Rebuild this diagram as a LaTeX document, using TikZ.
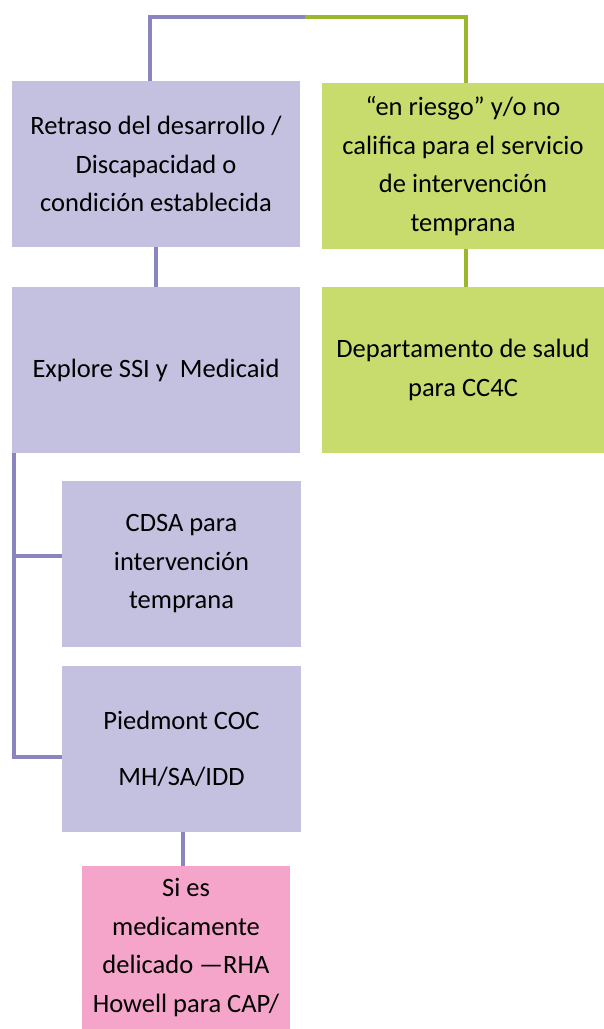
\documentclass[tikz,border=0pt]{standalone}
\usepackage{fontspec}
\setmainfont{Carlito}
\usetikzlibrary{positioning}
\definecolor{lilafondo}{HTML}{C4C1E0}
\definecolor{lilalinea}{HTML}{8A84C0}
\definecolor{verdefondo}{HTML}{C8DC6E}
\definecolor{verdelinea}{HTML}{9BB72E}
\definecolor{rosafondo}{HTML}{F4A5C9}
\begin{document}
\begin{tikzpicture}[
        x=1pt, y=-1pt, % el eje y crece hacia abajo
        caja/.style={rectangle, inner sep=0pt, outer sep=0pt, align=center,
            font=\fontsize{26.5}{38.5}\selectfont}, % estilo comun de las cajas
        lila/.style={caja, fill=lilafondo, minimum width=288pt, minimum height=166pt},
        verde/.style={caja, fill=verdefondo, minimum width=282pt, minimum height=166pt},
        hijo/.style={caja, fill=lilafondo, minimum width=239pt, minimum height=166pt},
        rosa/.style={caja, fill=rosafondo, minimum width=208pt, minimum height=163pt},
        lilarama/.style={draw=lilalinea, line width=4.5pt},
        verderama/.style={draw=verdelinea, line width=4.5pt},
    ]
    \useasboundingbox (0,0) rectangle (604,1029);

    \node[lila] (retraso) at (156,164) {Retraso del desarrollo /\\Discapacidad o\\condición establecida};
    \node[verde] (riesgo) at (463,166) {“en riesgo” y/o no\\califica para el servicio\\de intervención\\temprana};
    \node[lila, below=40pt of retraso] (explore) {Explore SSI y\ \ Medicaid};
    \node[verde, below=38pt of riesgo] (salud) {Departamento de salud\\para CC4C};
    \node[hijo] (cdsa) at (181.5,564) {CDSA para\\intervención\\temprana};
    \node[hijo, below=19pt of cdsa] (piedmont) {Piedmont COC\\[17.5pt]MH/SA/IDD};
    \node[rosa] (howell) at (186,947.5) {Si es\\medicamente\\delicado —RHA\\Howell para CAP/};

    \coordinate (arriba) at (305,17);
    \coordinate (bus) at (14,556);

    \draw[lilarama] (arriba) -| ([xshift=-6pt]retraso.north);
    \draw[verderama] (arriba) -| ([xshift=3pt]riesgo.north);
    \draw[lilarama] (retraso.south) -- (explore.north);
    \draw[verderama] ([xshift=3pt]riesgo.south) -- ([xshift=3pt]salud.north);
    \draw[lilarama] ([xshift=2pt]explore.south west) |- ([yshift=-8pt]piedmont.west);
    \draw[lilarama] (bus) -- ([yshift=8pt]cdsa.west);
    \draw[lilarama] ([xshift=1.5pt]piedmont.south) -- ([xshift=1.5pt]piedmont.south |- howell.north);
\end{tikzpicture}
\end{document}
